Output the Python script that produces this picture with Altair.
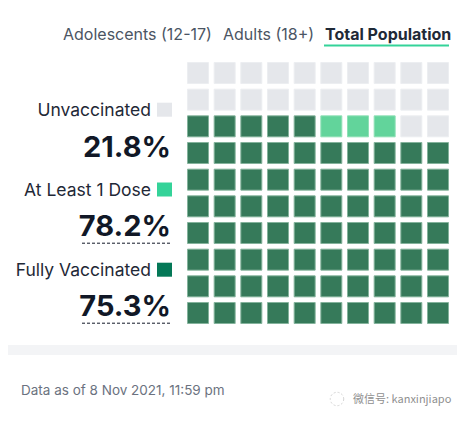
import altair as alt
import pandas as pd

# ---- data ----
tabs = ["Adolescents (12-17)", "Adults (18+)", "Total Population"]
categories = ["Unvaccinated", "At Least 1 Dose", "Fully Vaccinated"]
percents = [21.8, 78.2, 75.3]
cell_counts = {"Fully Vaccinated": 75, "At Least 1 Dose": 3, "Unvaccinated": 22}
footer = "Data as of 8 Nov 2021, 11:59 pm"
watermark = "微信号: kanxinjiapo"

cell_fill = {"Fully Vaccinated": "#367a5a", "At Least 1 Dose": "#62d49b", "Unvaccinated": "#e5e7eb"}
cell_stroke = {"Fully Vaccinated": "#84b39c", "At Least 1 Dose": "#8fe0b6", "Unvaccinated": "#eceef1"}
swatch = {"Fully Vaccinated": "#047857", "At Least 1 Dose": "#34d399", "Unvaccinated": "#e5e7eb"}

# waffle cells: filled from bottom-left, row by row
order = ["Fully Vaccinated", "At Least 1 Dose", "Unvaccinated"]
cells = []
k = 0
for cat in order:
    for _ in range(cell_counts[cat]):
        cells.append({"col": k % 10, "row": 9 - k // 10, "status": cat})
        k += 1
cells_df = pd.DataFrame(cells)

FONT = "Inter"

waffle = alt.Chart(cells_df).mark_rect(strokeWidth=1).encode(
    x=alt.X("col:O", axis=None,
            scale=alt.Scale(range=[179.5, 440.5], paddingInner=0.2125, paddingOuter=0)),
    y=alt.Y("row:O", axis=None, sort="ascending",
            scale=alt.Scale(range=[54.5, 315.5], paddingInner=0.2125, paddingOuter=0)),
    fill=alt.Fill("status:N", legend=None,
                  scale=alt.Scale(domain=order, range=[cell_fill[c] for c in order])),
    stroke=alt.Stroke("status:N", legend=None,
                      scale=alt.Scale(domain=order, range=[cell_stroke[c] for c in order])),
)

one = pd.DataFrame({"a": [0]})
layers = [waffle]

# tabs
tab_x = [55, 215, 317]
for i, t in enumerate(tabs):
    active = i == len(tabs) - 1
    layers.append(
        alt.Chart(one).mark_text(
            text=t, font=FONT, fontSize=16, align="left", baseline="alphabetic",
            fontWeight="bold" if active else "normal",
            color="#1f2937" if active else "#4b5563",
        ).encode(x=alt.value(tab_x[i]), y=alt.value(32))
    )
layers.append(
    alt.Chart(one).mark_rule(color="#34d399", strokeWidth=2).encode(
        x=alt.value(316), x2=alt.value(441), y=alt.value(37.5))
)

# labels, swatches, numbers
label_y = [107.7, 187.5, 267.7]
num_y = [148.7, 227.7, 307.7]
for i, c in enumerate(categories):
    layers.append(
        alt.Chart(one).mark_text(
            text=c, font=FONT, fontSize=17.5, align="right", baseline="alphabetic",
            color="#1f2937",
        ).encode(x=alt.value(143), y=alt.value(label_y[i]))
    )
    layers.append(
        alt.Chart(one).mark_rect(color=swatch[c]).encode(
            x=alt.value(149), x2=alt.value(164),
            y=alt.value(label_y[i] - 13), y2=alt.value(label_y[i] + 1))
    )
    layers.append(
        alt.Chart(one).mark_text(
            text=f"{percents[i]:.1f}%", font=FONT, fontSize=29, fontWeight="bold",
            align="right", baseline="alphabetic", color="#111827",
        ).encode(x=alt.value(163), y=alt.value(num_y[i]))
    )
    if i > 0:
        layers.append(
            alt.Chart(one).mark_rule(color="#111827", strokeWidth=1, strokeDash=[3, 2]).encode(
                x=alt.value(74), x2=alt.value(164), y=alt.value(num_y[i] + 7.5))
        )

# grey separator band
layers.append(
    alt.Chart(one).mark_rect(color="#f3f4f6").encode(
        x=alt.value(-8), x2=alt.value(460), y=alt.value(337), y2=alt.value(347))
)

# footer
layers.append(
    alt.Chart(one).mark_text(
        text=footer, font=FONT, fontSize=13.5, align="left", baseline="alphabetic",
        color="#6b7280",
    ).encode(x=alt.value(13), y=alt.value(387))
)
layers.append(
    alt.Chart(one).mark_text(
        text=watermark, font="Noto Sans CJK SC", fontSize=11, align="left", baseline="alphabetic",
        color="#8f8f8f",
    ).encode(x=alt.value(345), y=alt.value(395))
)
layers.append(
    alt.Chart(one).mark_point(shape="circle", size=180, color="#c4c4c4", strokeWidth=1,
                              strokeDash=[2, 2]).encode(
        x=alt.value(329), y=alt.value(391))
)

chart = alt.layer(*layers).properties(
    width=449, height=405, padding=0,
    autosize=alt.AutoSizeParams(type="none"),
    background="white",
).configure_view(stroke=None)

chart.save("out.html", embed_options={"renderer": "svg", "actions": False})
